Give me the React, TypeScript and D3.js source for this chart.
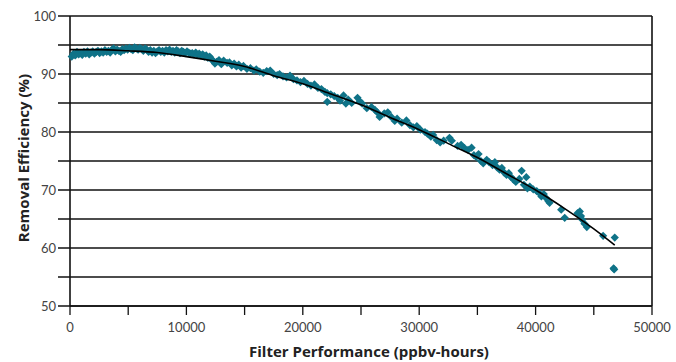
import React, { useEffect, useRef } from 'react';
import * as d3 from 'd3';

// measured points: [filter performance (ppbv-hours), removal efficiency (%)]
const samples: [number, number][] = [
  [150, 93.0], [300, 93.5], [450, 93.2], [600, 93.8], [750, 93.4], [900, 93.6], [1050, 93.3], [1200, 93.8],
  [1350, 93.5], [1500, 93.9], [1650, 93.4], [1800, 93.7], [1950, 93.9], [2100, 93.5], [2250, 93.8], [2400, 94.0],
  [2550, 93.6], [2700, 93.9], [2850, 93.7], [3000, 94.1], [3150, 93.8], [3300, 94.0], [3450, 93.7], [3600, 94.2],
  [3750, 94.4], [3900, 93.9], [4050, 94.2], [4200, 94.0], [4350, 93.8], [4500, 94.3], [4650, 94.1], [4800, 94.4],
  [4950, 94.2], [5100, 94.5], [5250, 94.3], [5400, 94.1], [5550, 94.6], [5700, 94.4], [5850, 94.2], [6000, 94.5],
  [6150, 94.3], [6300, 94.0], [6450, 94.4], [6600, 94.2], [6750, 93.8], [6900, 94.1], [7050, 93.7], [7200, 94.0],
  [7350, 93.6], [7500, 93.9], [7650, 94.1], [7800, 93.8], [7950, 94.0], [8100, 93.7], [8250, 94.1], [8400, 93.9],
  [8550, 94.2], [8700, 93.8], [8850, 94.0], [9000, 93.7], [9150, 94.1], [9300, 93.9], [9450, 93.6], [9600, 94.0],
  [9750, 93.8], [9900, 93.6], [10050, 93.9], [10200, 93.7], [10350, 93.5], [10500, 93.6], [10650, 93.4], [10800, 93.7],
  [10950, 93.3], [11100, 93.5], [11250, 93.2], [11400, 93.4], [11550, 93.0], [11700, 93.2], [11850, 92.8], [12000, 93.0],
  [12150, 92.6], [12300, 92.2], [12450, 91.8], [12600, 92.1], [12800, 92.4], [13000, 91.7], [13200, 92.3],
  [13500, 91.9], [13700, 92.0], [13900, 91.5], [14100, 91.8], [14300, 91.3], [14500, 91.6], [14700, 91.1], [14900, 91.4],
  [15200, 90.9], [15500, 91.0], [15800, 90.6], [16000, 90.8], [16300, 90.4], [16600, 90.2], [16900, 90.5], [17200, 90.6],
  [17500, 90.0], [17800, 89.8], [18000, 90.0], [18300, 89.6], [18600, 89.4], [18900, 89.7], [19200, 89.1], [19500, 88.9],
  [19800, 88.6], [20100, 88.8], [20400, 88.3], [20700, 88.0], [21000, 88.2], [21300, 87.6], [21600, 87.4], [21900, 86.9],
  [22100, 86.7], [22100, 85.2], [22400, 86.5], [22700, 86.2], [23000, 85.9], [23200, 85.4], [23500, 86.3], [23700, 84.9],
  [23900, 85.6], [24200, 85.0], [24700, 85.9], [24900, 85.3], [25100, 84.9], [25500, 84.1], [25900, 84.3], [26200, 83.8],
  [26400, 83.4], [26600, 82.6], [27000, 83.2], [27300, 83.4], [27600, 82.6], [27900, 81.9], [28100, 82.3], [28500, 81.6],
  [28900, 82.0], [29200, 81.2], [29500, 80.8], [29800, 81.0], [30100, 80.4], [30500, 80.0], [30700, 79.7], [31000, 79.2],
  [31200, 79.5], [31500, 78.6], [31800, 78.2], [32100, 78.5], [32600, 79.0], [32800, 78.5], [33300, 77.6], [33600, 77.8],
  [33900, 77.2], [34200, 76.9], [34500, 77.3], [34700, 76.0], [34900, 75.7], [35100, 76.2], [35300, 75.0], [35500, 74.6],
  [35800, 75.2], [36000, 74.8], [36300, 74.3], [36500, 74.8], [36700, 73.9], [36900, 73.5], [37100, 73.8], [37300, 73.0],
  [37500, 72.6], [37700, 72.9], [37900, 72.2], [38100, 71.8], [38300, 71.4], [38600, 71.9], [38800, 73.3], [39000, 70.9],
  [39200, 72.2], [39300, 70.3], [39500, 70.6], [39800, 70.1], [40100, 69.8], [40300, 69.5], [40500, 68.9], [40700, 69.3],
  [40900, 68.6], [41100, 68.1], [41200, 67.8], [42200, 66.6], [42500, 65.2], [43600, 66.0], [43800, 66.3], [43900, 65.5],
  [44000, 64.9], [44200, 64.2], [44400, 63.6], [45800, 62.1], [46800, 61.8], [46700, 56.5], [46750, 56.3],
];

// trend line
const fitX = [0, 2500, 5000, 7500, 10000, 12500, 15000, 17500, 20000, 22500, 25000, 27500, 30000, 32500, 35000, 37500, 40000, 42500, 45000, 46800];
const fitY = [94.2, 94.2, 94.0, 93.7, 93.0, 92.2, 91.3, 89.7, 88.3, 86.5, 84.7, 82.5, 80.4, 78.0, 75.6, 72.8, 70.0, 66.8, 63.3, 60.5];

const yTicks = [50, 55, 60, 65, 70, 75, 80, 85, 90, 95, 100];
const xTicks = [0, 5000, 10000, 15000, 20000, 25000, 30000, 35000, 40000, 45000, 50000];

const App = () => {
  const ref = useRef<SVGSVGElement | null>(null);

  useEffect(() => {
    document.body.style.margin = '0';
    const svg = d3.select(ref.current);
    svg.selectAll('*').remove();

    const left = 70, right = 652, top = 16, bottom = 306;
    const font = 'Lato, "Open Sans", sans-serif';
    const titleFont = '"Open Sans", Lato, sans-serif';

    const x = d3.scaleLinear().domain([0, 50000]).range([left, right]);
    const y = d3.scaleLinear().domain([50, 100]).range([bottom, top]);

    // gridlines (extend left past the axis like tick marks)
    svg.append('g')
      .selectAll('line')
      .data(yTicks)
      .enter().append('line')
      .attr('x1', left - 12)
      .attr('x2', right)
      .attr('y1', d => y(d))
      .attr('y2', d => y(d))
      .attr('stroke', '#111')
      .attr('stroke-width', 1.3);

    // y labels
    svg.append('g')
      .selectAll('text')
      .data(yTicks.filter(d => d % 10 === 0))
      .enter().append('text')
      .attr('x', left - 14)
      .attr('y', d => y(d))
      .attr('dy', '0.35em')
      .attr('text-anchor', 'end')
      .attr('font-family', font)
      .attr('font-size', 13)
      .attr('fill', '#444')
      .text(d => d);

    // x ticks
    svg.append('g')
      .selectAll('line')
      .data(xTicks)
      .enter().append('line')
      .attr('x1', d => x(d))
      .attr('x2', d => x(d))
      .attr('y1', bottom)
      .attr('y2', bottom + 9)
      .attr('stroke', '#111')
      .attr('stroke-width', 1.3);

    svg.append('g')
      .selectAll('text')
      .data(xTicks.filter(d => d % 10000 === 0))
      .enter().append('text')
      .attr('x', d => x(d))
      .attr('y', 327)
      .attr('dy', '0.35em')
      .attr('text-anchor', 'middle')
      .attr('font-family', font)
      .attr('font-size', 13)
      .attr('fill', '#444')
      .text(d => d);

    // frame: left axis, bottom axis, right border
    svg.append('line')
      .attr('x1', left).attr('x2', left).attr('y1', top).attr('y2', bottom)
      .attr('stroke', '#111').attr('stroke-width', 1.6);
    svg.append('line')
      .attr('x1', left).attr('x2', right).attr('y1', bottom).attr('y2', bottom)
      .attr('stroke', '#111').attr('stroke-width', 1.6);
    svg.append('line')
      .attr('x1', right).attr('x2', right).attr('y1', top).attr('y2', bottom)
      .attr('stroke', '#111').attr('stroke-width', 1.6);

    // points
    const diamond = d3.symbol().type(d3.symbolSquare).size(34);
    svg.append('g')
      .selectAll('path')
      .data(samples)
      .enter().append('path')
      .attr('d', diamond)
      .attr('transform', d => `translate(${x(d[0])},${y(d[1])}) rotate(45)`)
      .attr('fill', '#0f7388');

    // trend line
    const line = d3.line<number>()
      .x((d, i) => x(fitX[i]))
      .y(d => y(d))
      .curve(d3.curveMonotoneX);

    svg.append('path')
      .datum(fitY)
      .attr('fill', 'none')
      .attr('stroke', '#000')
      .attr('stroke-width', 1.6)
      .attr('d', line);

    // axis titles
    svg.append('text')
      .attr('x', 369)
      .attr('y', 352)
      .attr('dy', '0.35em')
      .attr('text-anchor', 'middle')
      .attr('font-family', titleFont)
      .attr('font-weight', 'bold')
      .attr('font-size', 15)
      .attr('fill', '#222')
      .text('Filter Performance (ppbv-hours)');

    svg.append('text')
      .attr('transform', `translate(24,158) rotate(-90)`)
      .attr('dy', '0.35em')
      .attr('text-anchor', 'middle')
      .attr('font-family', titleFont)
      .attr('font-weight', 'bold')
      .attr('font-size', 15)
      .attr('fill', '#222')
      .text('Removal Efficiency (%)');
  }, []);

  return <svg ref={ref} width={676} height={362} style={{ display: 'block', background: '#fff' }} />;
};

export default App;
